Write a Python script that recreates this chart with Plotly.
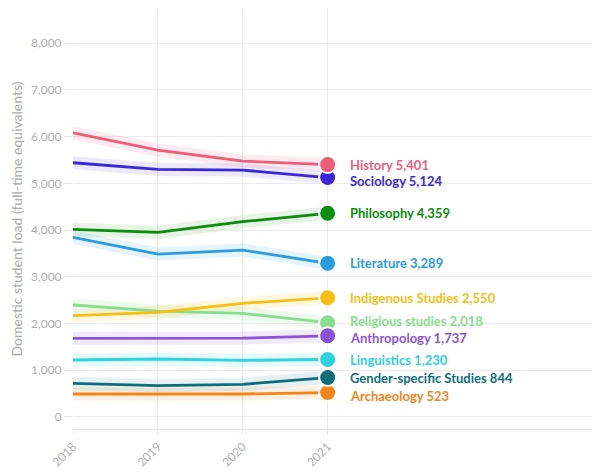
import plotly.graph_objects as go

years = [2018, 2019, 2020, 2021]

subjects = ["Archaeology", "Gender-specific Studies", "Linguistics", "Religious studies",
            "Anthropology", "Indigenous Studies", "Literature", "Philosophy", "Sociology", "History"]

archaeology = [492, 490, 492, 523]
gender = [720, 670, 700, 844]
linguistics = [1219, 1241, 1212, 1230]
religious = [2396, 2267, 2218, 2018]
anthropology = [1683, 1685, 1686, 1737]
indigenous = [2167, 2239, 2432, 2550]
literature = [3844, 3487, 3572, 3289]
philosophy = [4015, 3951, 4178, 4359]
sociology = [5440, 5298, 5283, 5124]
history = [6081, 5711, 5476, 5401]

series = [archaeology, gender, linguistics, religious, anthropology,
          indigenous, literature, philosophy, sociology, history]

band_half = 140

colors = ["#F5841A", "#0E6E7C", "#2DD2DD", "#88DD8F", "#8E52D8",
          "#F6C012", "#2A9DE2", "#0B8E0B", "#3B27D9", "#EF5D7A"]
band_colors = ["rgba(245,132,26,0.12)", "rgba(14,110,124,0.10)", "rgba(45,210,221,0.12)",
               "rgba(136,221,143,0.15)", "rgba(142,82,216,0.12)", "rgba(246,192,18,0.12)",
               "rgba(42,157,226,0.12)", "rgba(11,142,11,0.10)", "rgba(59,39,217,0.10)",
               "rgba(239,93,122,0.12)"]
label_shift = {"Sociology": -3, "Archaeology": -3, "Religious studies": 2, "Anthropology": -2}

fig = go.Figure()

# bands
for name, vals, bc in zip(subjects, series, band_colors):
    upper = [v + band_half for v in vals]
    lower = [v - band_half for v in vals]
    fig.add_trace(go.Scatter(x=years + years[::-1], y=upper + lower[::-1], fill="toself",
                             fillcolor=bc, line=dict(width=0), hoverinfo="skip",
                             showlegend=False, mode="lines"))

# lines
for name, vals, c in zip(subjects, series, colors):
    fig.add_trace(go.Scatter(x=years, y=vals, mode="lines", line=dict(color=c, width=2.8),
                             name=name, showlegend=False))

# end markers + labels
for name, vals, c in zip(subjects, series, colors):
    fig.add_trace(go.Scatter(x=[years[-1]], y=[vals[-1]], mode="markers",
                             marker=dict(size=17, color=c, line=dict(color="white", width=2)),
                             showlegend=False, name=name))
    fig.add_annotation(x=years[-1], y=vals[-1], text=f"<b>{name} {vals[-1]:,}</b>",
                       showarrow=False, xanchor="left", xshift=20,
                       yshift=label_shift.get(name, 0),
                       font=dict(color=c, size=13, family="Lato"))

fig.update_layout(
    width=592, height=467,
    margin=dict(l=65, r=5, t=1, b=46),
    plot_bgcolor="white", paper_bgcolor="white",
    font=dict(family="Lato", color="#aaaaaa"),
    xaxis=dict(range=[2018, 2024.15], tickvals=years, ticktext=[str(y) for y in years],
               tickangle=-45, showgrid=True, gridcolor="#ebebeb", gridwidth=1,
               zeroline=False, showline=True, linecolor="#e6e6e6", linewidth=1,
               ticks="outside", ticklen=5, tickcolor="#e6e6e6", automargin=False,
               tickfont=dict(size=12, color="#b0b0b0")),
    yaxis=dict(range=[-257, 8730], tickvals=[0, 1000, 2000, 3000, 4000, 5000, 6000, 7000, 8000],
               tickformat=",", showgrid=True, gridcolor="#ebebeb", gridwidth=1,
               zeroline=False, showline=False, ticks="outside", ticklen=8,
               tickcolor="#e6e6e6", tickfont=dict(size=12, color="#b0b0b0"), automargin=False,
               title=dict(text="Domestic student load (full-time equivalents)",
                          font=dict(size=14, color="#aaaaaa"))),
)

fig.write_html("out.html")
